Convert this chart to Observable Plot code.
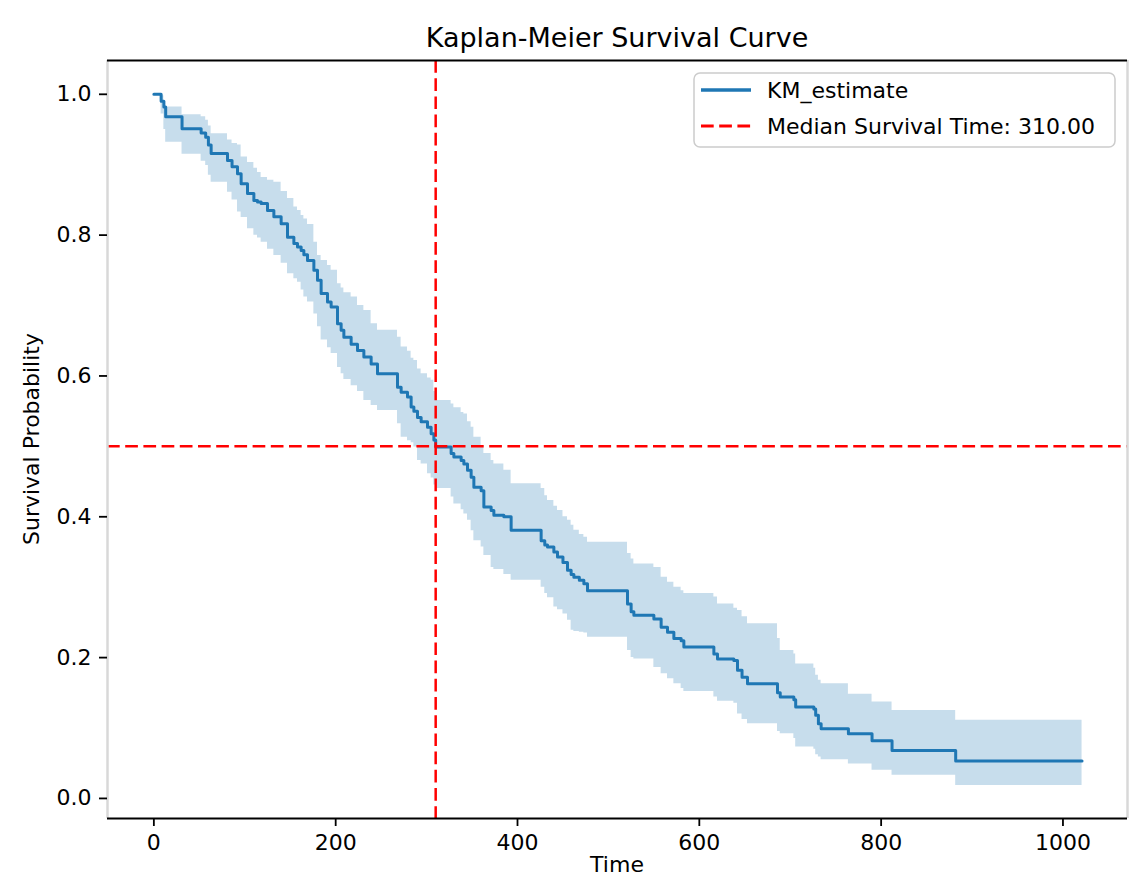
<!DOCTYPE html>
<html>
<head>
<meta charset="utf-8">
<script src="https://cdn.jsdelivr.net/npm/d3@7"></script>
<script src="https://cdn.jsdelivr.net/npm/@observablehq/plot@0.6"></script>
<style>
  html, body { margin: 0; padding: 0; background: #fff; }
  #chart svg { display: block; }
</style>
</head>
<body>
<div id="chart"></div>
<script>
// Kaplan-Meier estimate (step-after)
const times = [0, 8, 11, 13, 31, 52, 57, 60, 63, 81, 86, 92, 96, 103, 110, 114, 118, 125, 132, 140,
  147, 154, 158, 162, 165, 169, 176, 180, 184, 191, 195, 202, 206, 209, 217, 224, 231, 239, 246, 268,
  272, 279, 283, 286, 290, 294, 301, 305, 308, 310, 327, 330, 338, 341, 345, 349, 352, 360, 363, 371,
  374, 385, 393, 426, 430, 433, 440, 444, 450, 455, 459, 462, 468, 473, 477, 521, 525, 528, 550, 558,
  565, 572, 580, 583, 616, 620, 638, 642, 647, 653, 686, 689, 704, 706, 726, 728, 731, 734, 764, 790,
  812, 882, 1021];
const survival = [1.000, 0.990, 0.982, 0.968, 0.951, 0.945, 0.939, 0.928, 0.916, 0.906, 0.897, 0.887, 0.873, 0.859, 0.849, 0.847, 0.845, 0.835, 0.826, 0.816,
  0.797, 0.788, 0.783, 0.778, 0.772, 0.764, 0.750, 0.736, 0.717, 0.705, 0.698, 0.674, 0.665, 0.655, 0.645, 0.636, 0.627, 0.617, 0.603, 0.584,
  0.577, 0.570, 0.556, 0.550, 0.541, 0.535, 0.527, 0.518, 0.509, 0.499, 0.490, 0.485, 0.480, 0.475, 0.466, 0.456, 0.442, 0.437, 0.414, 0.409,
  0.402, 0.400, 0.381, 0.366, 0.360, 0.357, 0.350, 0.343, 0.335, 0.324, 0.318, 0.314, 0.310, 0.305, 0.295, 0.276, 0.265, 0.260, 0.255, 0.243,
  0.236, 0.227, 0.224, 0.215, 0.205, 0.198, 0.196, 0.182, 0.172, 0.163, 0.150, 0.144, 0.140, 0.130, 0.127, 0.118, 0.106, 0.099, 0.092, 0.082,
  0.068, 0.053, 0.053];
const ciLower = [1.000, 0.972, 0.950, 0.932, 0.915, 0.905, 0.899, 0.885, 0.875, 0.861, 0.850, 0.833, 0.825, 0.809, 0.800, 0.796, 0.790, 0.780, 0.771, 0.760,
  0.745, 0.738, 0.733, 0.722, 0.712, 0.705, 0.688, 0.670, 0.651, 0.640, 0.632, 0.612, 0.603, 0.595, 0.586, 0.578, 0.565, 0.558, 0.551, 0.532,
  0.513, 0.508, 0.505, 0.499, 0.480, 0.475, 0.461, 0.455, 0.445, 0.440, 0.428, 0.418, 0.410, 0.404, 0.395, 0.380, 0.366, 0.357, 0.345, 0.328,
  0.325, 0.318, 0.310, 0.300, 0.291, 0.285, 0.272, 0.268, 0.262, 0.253, 0.239, 0.237, 0.236, 0.235, 0.229, 0.210, 0.200, 0.198, 0.186, 0.177,
  0.170, 0.163, 0.156, 0.152, 0.144, 0.138, 0.135, 0.120, 0.112, 0.106, 0.095, 0.092, 0.085, 0.073, 0.070, 0.062, 0.059, 0.055, 0.049, 0.040,
  0.033, 0.0185, 0.0185];
const ciUpper = [1.000, 0.998, 0.990, 0.982, 0.971, 0.968, 0.963, 0.955, 0.944, 0.935, 0.930, 0.928, 0.911, 0.903, 0.895, 0.889, 0.882, 0.878, 0.875, 0.862,
  0.852, 0.840, 0.835, 0.828, 0.823, 0.815, 0.790, 0.771, 0.764, 0.757, 0.750, 0.731, 0.725, 0.718, 0.712, 0.700, 0.693, 0.674, 0.665, 0.655,
  0.641, 0.635, 0.625, 0.622, 0.610, 0.603, 0.597, 0.594, 0.578, 0.565, 0.560, 0.555, 0.548, 0.546, 0.535, 0.527, 0.513, 0.499, 0.490, 0.480,
  0.475, 0.466, 0.447, 0.440, 0.430, 0.423, 0.415, 0.409, 0.400, 0.395, 0.388, 0.381, 0.375, 0.371, 0.364, 0.348, 0.340, 0.333, 0.328, 0.314,
  0.307, 0.300, 0.295, 0.291, 0.286, 0.276, 0.270, 0.267, 0.258, 0.248, 0.227, 0.210, 0.205, 0.191, 0.185, 0.175, 0.168, 0.163, 0.148, 0.137,
  0.125, 0.111, 0.111];

const medianTime = 310;
const medianLevel = 0.5;
const xTicks = [0, 200, 400, 600, 800, 1000];
const yTicks = [0.0, 0.2, 0.4, 0.6, 0.8, 1.0];
const titleText = "Kaplan-Meier Survival Curve";
const xLabel = "Time";
const yLabel = "Survival Probability";
const legendLabels = ["KM_estimate", "Median Survival Time: 310.00"];

const rows = times.map((t, i) => ({t, s: survival[i], lo: ciLower[i], hi: ciUpper[i]}));

const W = 1135, H = 881;
const mL = 107, mR = 8, mT = 60, mB = 63;
const xDom = [-51, 1071], yDom = [-0.0285, 1.048];
const font = "DejaVu Sans, sans-serif";
const blue = "#1f77b4";

const plot = Plot.plot({
  width: W, height: H,
  marginLeft: mL, marginRight: mR, marginTop: mT, marginBottom: mB,
  style: {fontFamily: font, fontSize: "22px", color: "#000", background: "#fff", overflow: "hidden"},
  x: {domain: xDom},
  y: {domain: yDom},
  marks: [
    Plot.areaY(rows, {x: "t", y1: "lo", y2: "hi", curve: "step-after", fill: blue, fillOpacity: 0.25}),
    Plot.line(rows, {x: "t", y: "s", curve: "step-after", stroke: blue, strokeWidth: 3}),
    Plot.ruleX([medianTime], {stroke: "#ff0000", strokeWidth: 2.5, strokeDasharray: "12.7,5.5"}),
    Plot.ruleY([medianLevel], {stroke: "#ff0000", strokeWidth: 2.5, strokeDasharray: "12.7,5.5"}),
    Plot.ruleX([xDom[0], xDom[1]], {stroke: "#d8d8d8", strokeWidth: 2.5}),
    Plot.ruleY([yDom[0], yDom[1]], {stroke: "#000", strokeWidth: 2.2}),
    Plot.axisX({ticks: xTicks, tickFormat: d => String(d), tickSize: 8, tickPadding: 8, label: null, fontSize: 22, strokeWidth: 1.8}),
    Plot.axisY({ticks: yTicks, tickFormat: d3.format(".1f"), tickSize: 8, tickPadding: 8, label: null, fontSize: 22, strokeWidth: 1.8})
  ]
});
document.getElementById("chart").appendChild(plot);

const svg = d3.select(plot);
// Title
svg.append("text").attr("x", (mL + W - mR) / 2).attr("y", 47)
  .attr("text-anchor", "middle").attr("font-family", font).attr("font-size", 27).attr("fill", "#000")
  .text(titleText);
// Axis labels
svg.append("text").attr("x", (mL + W - mR) / 2).attr("y", 872)
  .attr("text-anchor", "middle").attr("font-family", font).attr("font-size", 22).attr("fill", "#000")
  .text(xLabel);
svg.append("text").attr("transform", `translate(39,${(mT + H - mB) / 2}) rotate(-90)`)
  .attr("text-anchor", "middle").attr("font-family", font).attr("font-size", 22).attr("fill", "#000")
  .text(yLabel);
// Legend
const lg = svg.append("g").attr("text-anchor", "start");
lg.append("rect").attr("x", 694).attr("y", 73).attr("width", 421).attr("height", 74).attr("rx", 6)
  .attr("fill", "#fff").attr("fill-opacity", 0.8).attr("stroke", "#cccccc").attr("stroke-width", 1.5);
lg.append("line").attr("x1", 701).attr("x2", 751).attr("y1", 90).attr("y2", 90)
  .attr("stroke", blue).attr("stroke-width", 3.4);
lg.append("line").attr("x1", 701).attr("x2", 751).attr("y1", 126).attr("y2", 126)
  .attr("stroke", "#ff0000").attr("stroke-width", 3.2).attr("stroke-dasharray", "12.7,5.5");
legendLabels.forEach((lab, i) => {
  lg.append("text").attr("x", 767).attr("y", i === 0 ? 90 : 126).attr("dy", "0.35em")
    .attr("text-anchor", "start")
    .attr("font-family", font).attr("font-size", 22).attr("fill", "#000").text(lab);
});
</script>
</body>
</html>
